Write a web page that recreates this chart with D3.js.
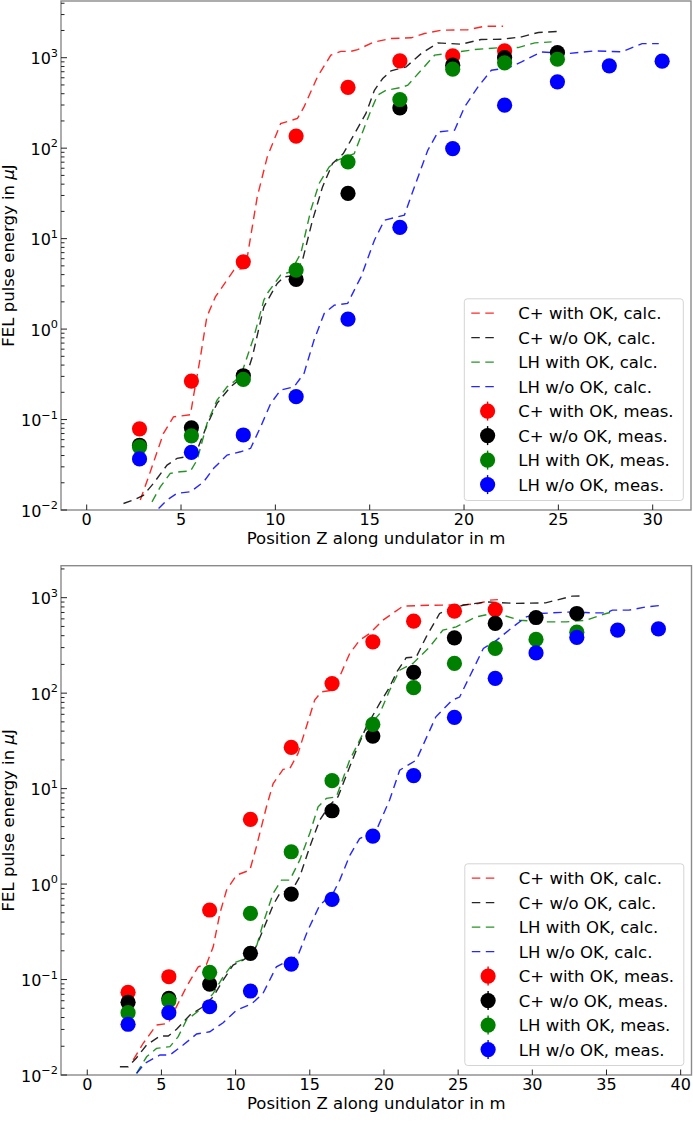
<!DOCTYPE html>
<html><head><meta charset="utf-8">
<script src="https://cdn.jsdelivr.net/npm/d3@7"></script>
<style>body{margin:0;background:#fff} svg{display:block} text{font-family:"DejaVu Sans",sans-serif;fill:#000}</style>
</head><body><svg id="c" width="693" height="1122"></svg>
<script>
// ---------- data ----------
const seriesNames = ["C+ with OK", "C+ w/o OK", "LH with OK", "LH w/o OK"];
const seriesColors = ["#ff0000", "#000000", "#008000", "#0000ff"];
const xTicksTop = [0, 5, 10, 15, 20, 25, 30];
const xTicksBottom = [0, 5, 10, 15, 20, 25, 30, 35, 40];
const yTickExps = [-2, -1, 0, 1, 2, 3];
const xLabel = "Position Z along undulator in m";

// top panel: measured
const zTop = [2.8, 5.55, 8.3, 11.1, 13.85, 16.6, 19.4, 22.15, 24.95, 27.7, 30.5];
const topMeasRed = [0.079, 0.266, 5.55, 136, 469, 922, 1047, 1190];
const topMeasBlack = [0.052, 0.081, 0.305, 3.54, 31.6, 279, 826, 1005, 1141];
const topMeasGreen = [0.050, 0.066, 0.278, 4.49, 70.6, 345, 746, 877, 962];
const topMeasBlue = [0.0367, 0.0434, 0.0675, 0.179, 1.29, 13.3, 99, 299, 541, 813, 915];

// top panel: calculated [z, energy]
const topCalcRed = [[2.84,0.0129],[3.28,0.0233],[4.07,0.0703],[4.6,0.107],[5.5,0.113],[5.67,0.186],[6.03,0.494],[6.37,1.37],[6.82,2.27],[7.8,4.49],[8.42,4.72],[8.6,8.1],[9.04,29],[9.57,80],[10.28,187],[11.17,213],[11.52,286],[12.23,614],[12.94,1067],[13.47,1175],[14.0,1175],[14.36,1230],[15.25,1496],[16.13,1630],[17.2,1660],[17.9,1850],[18.8,2014],[20.2,2040],[21.1,2230],[22.07,2230]];
const topCalcBlack = [[1.95,0.0118],[2.48,0.0129],[3.0,0.0145],[3.54,0.0197],[4.26,0.0314],[4.79,0.0372],[5.32,0.039],[5.85,0.046],[6.38,0.087],[6.91,0.151],[7.62,0.23],[8.5,0.324],[8.78,0.494],[9.39,1.76],[10.1,3.2],[10.46,3.78],[10.99,3.9],[11.44,5.79],[11.97,16],[12.5,37.3],[13.03,67.8],[13.6,87],[14.8,242],[15.25,437],[15.69,589],[16.13,716],[16.93,793],[17.73,1112],[18.62,1458],[19.86,1409],[20.9,1590],[21.98,1600],[23.05,1700],[23.94,1900],[25.0,1950]];
const topCalcGreen = [[3.46,0.0123],[3.9,0.018],[4.43,0.0254],[4.96,0.0265],[5.5,0.027],[5.85,0.0356],[6.38,0.0908],[6.91,0.164],[7.44,0.23],[8.15,0.297],[8.86,0.82],[9.39,2.09],[9.57,2.48],[10.28,3.95],[10.81,4.3],[11.35,6.86],[11.88,20.7],[12.32,40.7],[12.85,62],[13.3,73.7],[14.18,87],[15.07,263],[15.42,385],[15.87,437],[16.66,468],[17.02,497],[17.73,728],[18.44,1067],[19.32,1130],[20.56,1230],[21.98,1295],[22.87,1295],[23.75,1458],[24.64,1496]];
const topCalcBlue = [[3.81,0.0104],[4.26,0.0129],[4.79,0.0153],[5.5,0.0159],[6.2,0.0205],[6.73,0.0289],[7.44,0.0405],[8.15,0.044],[8.69,0.0481],[9.22,0.0832],[9.75,0.15],[10.28,0.212],[10.99,0.23],[11.52,0.324],[12.05,0.756],[12.59,1.49],[13.12,1.84],[13.83,1.92],[14.27,2.93],[14.54,3.78],[15.25,9.6],[15.78,16],[16.84,18.2],[17.37,37.3],[18.08,95],[18.62,151],[19.5,158],[20.03,286],[20.74,476],[21.45,728],[22.34,772],[23.05,900],[24.1,1159],[25.53,1112],[26.95,1190],[28.37,1160],[29.44,1432],[30.32,1432]];

// bottom panel: measured
const zBottom = [2.75, 5.5, 8.25, 11, 13.75, 16.5, 19.25, 22, 24.75, 27.5, 30.25, 33, 35.75, 38.5];
const botMeasRed = [0.0734, 0.107, 0.535, 4.76, 27, 126, 345, 568, 722, 752];
const botMeasBlack = [0.0577, 0.0636, 0.0897, 0.188, 0.785, 5.86, 35.5, 165, 380, 537, 620, 683];
const botMeasGreen = [0.045, 0.06, 0.119, 0.493, 2.18, 12.1, 47, 114, 205, 294, 365, 435];
const botMeasBlue = [0.034, 0.045, 0.0519, 0.0758, 0.145, 0.69, 3.18, 13.7, 55.7, 143, 264, 383, 457, 471];

// bottom panel: calculated [z, energy]
const botCalcRed = [[3.1,0.0144],[3.77,0.0215],[4.67,0.0334],[5.46,0.0347],[5.9,0.048],[6.69,0.084],[7.48,0.136],[8.04,0.145],[8.49,0.22],[8.94,0.493],[9.39,0.865],[10.06,1.24],[10.96,1.4],[11.4,2.46],[12.08,6.45],[12.53,11.3],[13.2,15.9],[13.65,16.2],[14.21,23.4],[14.77,44.4],[15.33,84.5],[15.78,103],[16.46,107],[17.02,150],[17.69,260],[18.36,359],[19.04,422],[19.93,581],[21.06,771],[21.28,815],[23.08,833],[25.32,840],[26.44,871],[27.12,942],[27.68,955]];
const botCalcBlack = [[2.2,0.0122],[2.76,0.0122],[3.3,0.015],[4.0,0.0206],[4.9,0.0256],[5.46,0.0256],[6.02,0.0301],[6.92,0.0425],[7.81,0.0519],[8.49,0.066],[9.16,0.0988],[9.83,0.142],[10.5,0.16],[11.18,0.188],[11.85,0.33],[12.53,0.603],[12.98,0.8],[13.87,0.9],[14.32,1.19],[15.0,2.46],[15.67,4.68],[16.34,6.7],[16.9,8.2],[17.69,16.9],[18.14,25.3],[18.81,44.4],[19.71,78],[20.3,110],[20.9,170],[21.5,235],[22.18,240],[22.85,389],[23.75,683],[24.2,740],[25.32,834],[26.9,904],[28.9,871],[30.9,883],[32.7,1038],[33.18,1040]];
const botCalcGreen = [[3.32,0.0104],[4.0,0.0155],[4.67,0.019],[5.57,0.0198],[6.13,0.0252],[6.69,0.0377],[7.59,0.048],[8.49,0.0717],[9.16,0.107],[9.83,0.148],[10.73,0.167],[11.4,0.22],[11.85,0.387],[12.53,0.8],[13.09,1.1],[13.65,1.1],[14.32,1.78],[15.0,3.4],[15.56,6.45],[16.12,7.9],[16.79,8.2],[17.69,19.9],[18.59,37.8],[19.71,61],[20.38,107],[21.06,174],[21.95,205],[23.08,305],[23.97,457],[24.87,495],[26.22,630],[27.34,683],[28.01,656],[29.14,581],[30.94,558],[32.28,558],[33.63,581],[34.98,683],[35.42,710]];
const botCalcBlue = [[3.33,0.0104],[3.89,0.0133],[4.9,0.0162],[5.57,0.0162],[6.46,0.0206],[7.37,0.0269],[8.26,0.0284],[9.16,0.0353],[10.06,0.0478],[11.07,0.0554],[11.85,0.0717],[12.75,0.136],[13.43,0.154],[14.21,0.18],[14.88,0.33],[15.67,0.603],[16.57,0.8],[17.02,1.1],[17.7,2.0],[18.36,3.0],[19.1,3.4],[19.49,3.67],[20.38,7.6],[21.06,15.6],[22.18,19.9],[23.5,56.5],[24.6,84.5],[25.1,91],[26.7,294],[27.6,359],[28.7,495],[29.6,630],[30.5,683],[32.7,710],[34.1,694],[35.0,694],[35.4,740],[36.5,740],[37.7,802],[38.8,834]];

// ---------- drawing ----------
const svg = d3.select("#c");
const panels = [
  { xDomain: [-1.362, 32.03], xRange: [61, 691], yDomain: [0.01, 4236], yRange: [510, 1],
    xTicks: xTicksTop, z: zTop,
    meas: [topMeasRed, topMeasBlack, topMeasGreen, topMeasBlue],
    calc: [topCalcRed, topCalcBlack, topCalcGreen, topCalcBlue], xLabelY: 543.5 },
  { xDomain: [-1.77, 40.73], xRange: [61, 691.5], yDomain: [0.01, 2163], yRange: [1075, 565.7],
    xTicks: xTicksBottom, z: zBottom,
    meas: [botMeasRed, botMeasBlack, botMeasGreen, botMeasBlue],
    calc: [botCalcRed, botCalcBlack, botCalcGreen, botCalcBlue], xLabelY: 1108.5 }
];

const FS = 16.5, TFS = 16;
panels.forEach((p, pi) => {
  const x = d3.scaleLinear().domain(p.xDomain).range(p.xRange);
  const y = d3.scaleLog().domain(p.yDomain).range(p.yRange);
  const g = svg.append("g");
  const clipId = "clip" + pi;
  svg.append("clipPath").attr("id", clipId).append("rect")
    .attr("x", p.xRange[0]).attr("y", p.yRange[1])
    .attr("width", p.xRange[1] - p.xRange[0]).attr("height", p.yRange[0] - p.yRange[1]);

  // calc lines
  const line = d3.line().x(d => x(d[0])).y(d => y(d[1]));
  const lg = g.append("g").attr("clip-path", `url(#${clipId})`);
  p.calc.forEach((c, i) => {
    lg.append("path").attr("d", line(c)).attr("fill", "none")
      .attr("stroke", seriesColors[i]).attr("stroke-width", 1.4)
      .attr("stroke-opacity", 0.85).attr("stroke-dasharray", "8.5,5.5");
  });
  // measured points
  p.meas.forEach((m, i) => {
    g.append("g").selectAll("circle").data(m).join("circle")
      .attr("cx", (d, j) => x(p.z[j])).attr("cy", d => y(d)).attr("r", 7.6)
      .attr("fill", seriesColors[i]);
  });

  // spines
  const [x0, x1] = p.xRange, [yb, yt] = p.yRange;
  g.append("rect").attr("x", x0).attr("y", yt).attr("width", x1 - x0).attr("height", yb - yt)
    .attr("fill", "none").attr("stroke", "#8a8a8a").attr("stroke-width", 1.4);

  // x ticks (inward)
  const xa = g.append("g");
  p.xTicks.forEach(t => {
    xa.append("line").attr("x1", x(t)).attr("x2", x(t)).attr("y1", yb).attr("y2", yb - 5.5)
      .attr("stroke", "#222").attr("stroke-width", 1);
    xa.append("text").attr("x", x(t)).attr("y", yb + 14.5).attr("text-anchor", "middle")
      .attr("font-size", TFS).text(t);
  });
  // y ticks major + minor (inward)
  const ya = g.append("g");
  const [dmin, dmax] = p.yDomain;
  for (let e = -2; e <= 4; e++) {
    for (let k = 1; k <= 9; k++) {
      const v = k * Math.pow(10, e);
      if (v < dmin * 0.999 || v > dmax) continue;
      const major = k === 1;
      ya.append("line").attr("x1", x0).attr("x2", x0 + (major ? 6 : 3.5))
        .attr("y1", y(v)).attr("y2", y(v)).attr("stroke", "#222").attr("stroke-width", 1);
    }
  }
  yTickExps.forEach(e => {
    const t = ya.append("text").attr("x", 58).attr("y", y(Math.pow(10, e)) + 6.5)
      .attr("text-anchor", "end").attr("font-size", TFS);
    t.append("tspan").text("10");
    t.append("tspan").attr("dy", -7.5).attr("font-size", 11.3).text(e < 0 ? "\u2212" + (-e) : String(e));
  });

  // axis labels
  g.append("text").attr("x", (x0 + x1) / 2).attr("y", p.xLabelY).attr("text-anchor", "middle")
    .attr("font-size", FS).text(xLabel);
  const yl = g.append("text").attr("transform", `translate(14.2,${(yb + yt) / 2}) rotate(-90)`)
    .attr("text-anchor", "middle").attr("font-size", FS);
  yl.append("tspan").text("FEL pulse energy in ");
  yl.append("tspan").attr("font-style", "italic").text("\u03bc");
  yl.append("tspan").text("J");

  // legend
  const bw = 219, bh = 201.7;
  const bx = x1 - 7.7 - bw, by = yb - 9.5 - bh;
  const leg = g.append("g");
  leg.append("rect").attr("x", bx).attr("y", by).attr("width", bw).attr("height", bh)
    .attr("rx", 3).attr("fill", "#fff").attr("fill-opacity", 0.8)
    .attr("stroke", "#d4d4d4").attr("stroke-width", 1);
  const entries = [];
  seriesNames.forEach((n, i) => entries.push({ label: n + ", calc.", color: seriesColors[i], kind: "line" }));
  seriesNames.forEach((n, i) => entries.push({ label: n + ", meas.", color: seriesColors[i], kind: "dot" }));
  entries.forEach((en, i) => {
    const cy = by + 14.3 + 24.5 * i;
    if (en.kind === "line") {
      leg.append("line").attr("x1", bx + 7).attr("x2", bx + 34).attr("y1", cy).attr("y2", cy)
        .attr("stroke", en.color).attr("stroke-width", 1.4).attr("stroke-opacity", 0.85)
        .attr("stroke-dasharray", "8.5,5.5");
    } else {
      leg.append("line").attr("x1", bx + 23.3).attr("x2", bx + 23.3).attr("y1", cy - 9.5).attr("y2", cy + 9.5)
        .attr("stroke", en.color).attr("stroke-width", 1.4);
      leg.append("circle").attr("cx", bx + 23.3).attr("cy", cy).attr("r", 7.6).attr("fill", en.color);
    }
    leg.append("text").attr("x", bx + 54).attr("y", cy + 6).attr("font-size", FS).text(en.label);
  });
});
</script></body></html>
